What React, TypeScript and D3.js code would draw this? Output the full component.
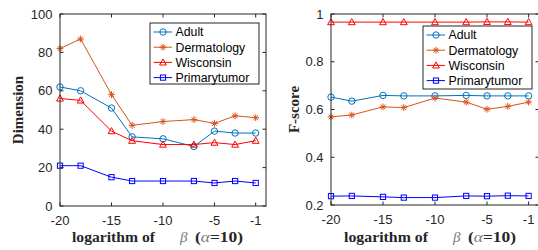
import React from "react";
import * as d3 from "d3";

const xs = [-20, -18, -15, -13, -10, -7, -5, -3, -1];
const seriesNames = ["Adult", "Dermatology", "Wisconsin", "Primarytumor"];
const colors = ["#0072BD", "#D95319", "#FF0000", "#0000FF"];
const markers = ["circle", "star", "triangle", "square"];

const dimAdult = [62, 60, 51, 36, 35, 31, 39, 38, 38];
const dimDerm = [82, 87, 58, 42, 44, 45, 43, 47, 46];
const dimWisc = [56, 55, 39, 34, 32, 32, 33, 32, 34];
const dimPrim = [21, 21, 15, 13, 13, 13, 12, 13, 12];

const fAdult = [0.652, 0.635, 0.659, 0.657, 0.657, 0.659, 0.657, 0.657, 0.657];
const fDerm = [0.569, 0.577, 0.611, 0.608, 0.648, 0.631, 0.601, 0.613, 0.631];
const fWisc = [0.966, 0.966, 0.966, 0.966, 0.966, 0.966, 0.967, 0.967, 0.966];
const fPrim = [0.237, 0.238, 0.234, 0.231, 0.231, 0.238, 0.237, 0.239, 0.238];

const xTicks = [-20, -15, -10, -5, -1];
const dimTicks = [0, 20, 40, 60, 80, 100];
const fTicks = [0.2, 0.4, 0.6, 0.8, 1];

const AX = "#262626";
const TICKFONT = "'Liberation Sans', Arial, sans-serif";
const LABELFONT = "'Liberation Serif', 'Times New Roman', serif";

function Marker({ type, x, y, color }: { type: string; x: number; y: number; color: string }) {
  if (type === "circle") return <circle cx={x} cy={y} r={3.2} fill="none" stroke={color} strokeWidth={1} />;
  if (type === "square") return <rect x={x - 2.6} y={y - 2.6} width={5.2} height={5.2} fill="none" stroke={color} strokeWidth={1} />;
  if (type === "triangle") {
    return <path d={`M${x},${y - 3.5}L${x + 3.4},${y + 2.6}L${x - 3.4},${y + 2.6}Z`} fill="none" stroke={color} strokeWidth={1} />;
  }
  const s = 3.4;
  const d = s * 0.7;
  return (
    <path
      d={`M${x - s},${y}L${x + s},${y}M${x},${y - s}L${x},${y + s}M${x - d},${y - d}L${x + d},${y + d}M${x - d},${y + d}L${x + d},${y - d}`}
      stroke={color}
      strokeWidth={1}
    />
  );
}

function Panel({
  left, right, top, bottom, yDomain, yTicks, yFmt, data, ylabel, ylabelX, legend, xl,
}: {
  left: number; right: number; top: number; bottom: number; yDomain: [number, number]; yTicks: number[];
  yFmt: (v: number) => string; data: number[][]; ylabel: string; ylabelX: number;
  legend: { x: number; y: number; w: number; h: number };
  xl: { a: number; aw: number; b: number; c: number; cw: number };
}) {
  const x = d3.scaleLinear().domain([-20, 0]).range([left, right]);
  const y = d3.scaleLinear().domain(yDomain).range([bottom, top]);
  const line = d3.line<number>().x((_, i) => x(xs[i])).y((v) => y(v));
  const tl = 3.5;
  return (
    <g>
      <rect x={left} y={top} width={right - left} height={bottom - top} fill="white" />
      {data.map((vals, si) => (
        <g key={si}>
          <path d={line(vals) || ""} fill="none" stroke={colors[si]} strokeWidth={1} />
          {vals.map((v, i) => (
            <Marker key={i} type={markers[si]} x={x(xs[i])} y={y(v)} color={colors[si]} />
          ))}
        </g>
      ))}
      <rect x={left} y={top} width={right - left} height={bottom - top} fill="none" stroke={AX} strokeWidth={1} />
      {xTicks.map((t) => (
        <g key={t}>
          <line x1={x(t)} x2={x(t)} y1={bottom} y2={bottom - tl} stroke={AX} />
          <line x1={x(t)} x2={x(t)} y1={top} y2={top + tl} stroke={AX} />
          <text x={x(t)} y={bottom + 18.5} textAnchor="middle" fontFamily={TICKFONT} fontSize={13} fill={AX}>
            {t}
          </text>
        </g>
      ))}
      {yTicks.map((t) => (
        <g key={t}>
          <line x1={left} x2={left + tl} y1={y(t)} y2={y(t)} stroke={AX} />
          <line x1={right} x2={right - tl} y1={y(t)} y2={y(t)} stroke={AX} />
          <text x={left - 7.5} y={y(t) + 4.5} textAnchor="end" fontFamily={TICKFONT} fontSize={13} fill={AX}>
            {yFmt(t)}
          </text>
        </g>
      ))}
      <text
        transform={`translate(${ylabelX},${(top + bottom) / 2}) rotate(-90)`}
        textAnchor="middle"
        fontFamily={LABELFONT}
        fontWeight="bold"
        fontSize={15}
        fill={AX}
      >
        {ylabel}
      </text>
      <g fontFamily={LABELFONT} fontSize={15} fill={AX}>
        <text x={xl.a} y={241.5} fontWeight="bold" textLength={xl.aw} lengthAdjust="spacingAndGlyphs">
          logarithm of
        </text>
        <text x={xl.b} y={241.5} fontStyle="italic" fill="#7a7a7a">
          β
        </text>
        <text x={xl.c} y={241.5} textLength={xl.cw} lengthAdjust="spacingAndGlyphs">
          <tspan fontWeight="bold">(</tspan>
          <tspan fontStyle="italic" fill="#7a7a7a">α</tspan>
          <tspan fontWeight="bold">=10)</tspan>
        </text>
      </g>
      <g>
        <rect x={legend.x} y={legend.y} width={legend.w} height={legend.h} fill="white" stroke={AX} strokeWidth={1} />
        {seriesNames.map((n, i) => {
          const ly = legend.y + 9 + i * 15.2;
          return (
            <g key={n}>
              <line x1={legend.x + 3.5} x2={legend.x + 22} y1={ly} y2={ly} stroke={colors[i]} />
              <Marker type={markers[i]} x={legend.x + 13} y={ly} color={colors[i]} />
              <text x={legend.x + 25.5} y={ly + 4.4} fontFamily={TICKFONT} fontSize={12.3} fill="#000">
                {n}
              </text>
            </g>
          );
        })}
      </g>
    </g>
  );
}

export default function App() {
  return (
    <svg width={538} height={250} style={{ position: "absolute", left: 0, top: 0, background: "white" }}>
      <Panel
        left={60}
        right={266}
        top={14}
        bottom={206}
        yDomain={[0, 100]}
        yTicks={dimTicks}
        yFmt={(v) => String(v)}
        data={[dimAdult, dimDerm, dimWisc, dimPrim]}
        ylabel="Dimension"
        ylabelX={23}
        legend={{ x: 150, y: 23, w: 109, h: 61 }}
        xl={{ a: 72, aw: 83, b: 180, c: 195, cw: 48 }}
      />
      <Panel
        left={331}
        right={539}
        top={14}
        bottom={205}
        yDomain={[0.2, 1]}
        yTicks={fTicks}
        yFmt={(v) => (v === 1 ? "1" : d3.format(".1f")(v))}
        data={[fAdult, fDerm, fWisc, fPrim]}
        ylabel="F-score"
        ylabelX={299}
        legend={{ x: 423, y: 26, w: 109, h: 63 }}
        xl={{ a: 344, aw: 84, b: 453, c: 468, cw: 48 }}
      />
    </svg>
  );
}
